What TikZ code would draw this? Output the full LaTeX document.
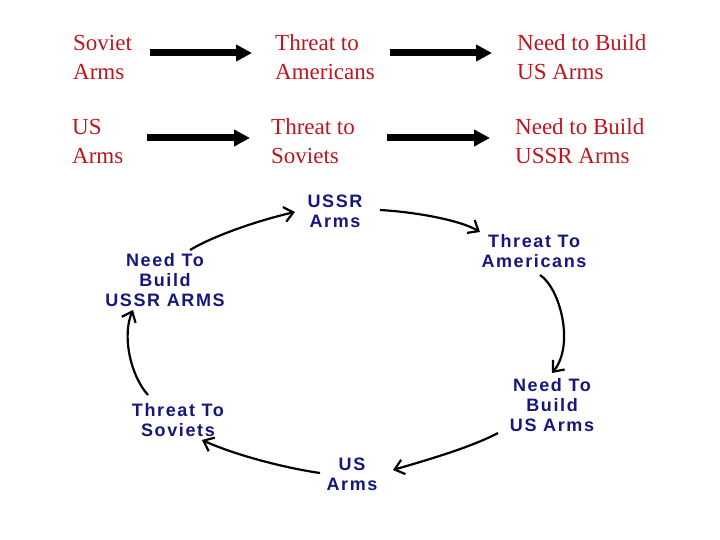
\documentclass[tikz,border=0pt]{standalone}
\usepackage{fontspec}
\setmainfont{Liberation Serif}
\newfontfamily\cycfont[LetterSpace=9]{Liberation Sans}
\usetikzlibrary{arrows.meta,calc}
\definecolor{redtxt}{RGB}{190,22,30}
\definecolor{bluetxt}{RGB}{22,22,125}
\begin{document}
\begin{tikzpicture}[x=1pt,y=-1pt,
 toptxt/.style={anchor=west,inner sep=0pt,align=left,text=redtxt,font=\fontsize{23}{29}\selectfont},
 cyctxt/.style={inner sep=0pt,align=center,text=bluetxt,font=\cycfont\bfseries\fontsize{18}{20}\selectfont},
 bigarrow/.style={line width=7pt,-{Triangle[length=16pt,width=16pt]}},
 cycarrow/.style={line width=2.2pt,-{Straight Barb[length=9pt,width=15pt]}}]
\useasboundingbox[fill=white] (0,0) rectangle (720,540);
% top rows
\node[toptxt] (sa) at (73,57.5) {Soviet\\Arms};
\node[toptxt] (ta) at (275,57.5) {Threat to\\Americans};
\node[toptxt] (nus) at (517,57.5) {Need to Build\\US Arms};
\node[toptxt] (ua) at (72,141.5) {US\\Arms};
\node[toptxt] (ts) at (271,141.5) {Threat to\\Soviets};
\node[toptxt] (nussr) at (515,141.5) {Need to Build\\USSR Arms};
\draw[bigarrow] ($(sa.west)+(77,-4.5)$) -- ($(ta.west)+(-23,-4.5)$);
\draw[bigarrow] ($(ta.west)+(115,-4.5)$) -- ($(nus.west)+(-25,-4.5)$);
\draw[bigarrow] ($(ua.west)+(75,-3.5)$) -- ($(ts.west)+(-21,-3.5)$);
\draw[bigarrow] ($(ts.west)+(116,-3.5)$) -- ($(nussr.west)+(-25,-3.5)$);
% cycle
\node[cyctxt] (cu) at (335,211) {USSR\\Arms};
\node[cyctxt] (ca) at (534,251) {Threat To\\Americans};
\node[cyctxt] (cb) at (552,405) {Need To\\Build\\US Arms};
\node[cyctxt] (cs) at (352,474) {US\\Arms};
\node[cyctxt] (ct) at (178,420) {Threat To\\Soviets};
\node[cyctxt] (cn) at (165,280) {Need To\\Build\\USSR ARMS};
\draw[cycarrow] ($(cu)+(45,-1)$) .. controls (415,212) and (460,220) .. ($(ca)+(-54,-19)$);
\draw[cycarrow] ($(ca)+(6,24)$) .. controls (560,288) and (575,345) .. ($(cb)+(0,-32)$);
\draw[cycarrow] ($(cb)+(-54,28)$) .. controls (470,448) and (420,462) .. ($(cs)+(41,-4)$);
\draw[cycarrow] ($(cs)+(-32,-1)$) .. controls (285,468) and (235,455) .. ($(ct)+(24,20)$);
\draw[cycarrow] ($(ct)+(-30,-25)$) .. controls (130,375) and (122,335) .. ($(cn)+(-32,30)$);
\draw[cycarrow] ($(cn)+(25,-30)$) .. controls (215,235) and (260,220) .. ($(cu)+(-40,1)$);
\end{tikzpicture}
\end{document}
